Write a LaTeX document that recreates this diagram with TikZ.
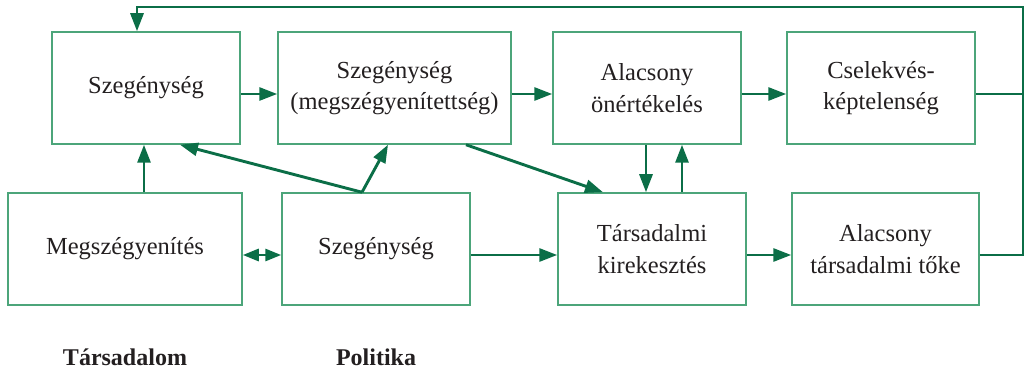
\documentclass[tikz,border=0pt]{standalone}
\usepackage{fontspec}
\setmainfont{Liberation Serif}
\usetikzlibrary{arrows.meta,calc}
\definecolor{boxgreen}{HTML}{4CA57A}
\definecolor{arrgreen}{HTML}{0B6E47}
\definecolor{txt}{HTML}{231F20}
\tikzset{
  box/.style={draw=boxgreen, line width=1.5pt, minimum height=112pt, inner sep=0pt,
    align=center, text=txt, font=\fontsize{24.5}{31.5}\selectfont},
  arr/.style={draw=arrgreen, line width=2.9pt, -{Triangle[length=18pt,width=13pt]}},
  darr/.style={draw=arrgreen, line width=2.9pt, {Triangle[length=16pt,width=12pt]}-{Triangle[length=16pt,width=12pt]}},
  plain/.style={draw=arrgreen, line width=2.9pt},
  lab/.style={text=txt, font=\fontsize{24}{28}\selectfont\bfseries}
}
\begin{document}
\begin{tikzpicture}[x=1pt,y=-1pt]
\useasboundingbox (0,0) rectangle (1027,371);
% top row
\node[box, minimum width=188pt] (A) at (146,88) {Szegénység};
\node[box, minimum width=233pt] (B) at (394.5,88) {Szegénység\\(megszégyenítettség)};
\node[box, minimum width=188pt] (C) at (647,88) {Alacsony\\önértékelés};
\node[box, minimum width=188pt] (D) at (881,88) {Cselekvés-\\képtelenség};
% bottom row
\node[box, minimum width=234pt] (E) at (125,249) {Megszégyenítés};
\node[box, minimum width=188pt] (F) at (376,249) {Szegénység};
\node[box, minimum width=188pt] (G) at (652,249) {Társadalmi\\kirekesztés};
\node[box, minimum width=187pt] (H) at (885.5,249) {Alacsony\\társadalmi tőke};
% labels
\node[lab] (L1) at (125,357) {Társadalom};
\node[lab] (L2) at (376,357) {Politika};
% coordinates
\coordinate (tr) at (1023,7);
\coordinate (tl) at (137,7);
\coordinate (fs) at ([xshift=-14pt]F.north);
% horizontal arrows top row
\draw[arr] ([yshift=-6pt]A.east) -- ([yshift=-6pt]B.west);
\draw[arr] ([yshift=-6pt]B.east) -- ([yshift=-6pt]C.west);
\draw[arr] ([yshift=-6pt]C.east) -- ([yshift=-6pt]D.west);
\draw[plain] ([yshift=-6pt]D.east) -- ([yshift=-6pt]D.east -| tr);
% feedback loop
\draw[arr] ([yshift=-6pt]H.east) -| (tr) -- (tl) -- (tl |- A.north);
% bottom row arrows
\draw[darr] ([yshift=-6pt]E.east) -- ([yshift=-6pt]F.west);
\draw[arr] ([yshift=-6pt]F.east) -- ([yshift=-6pt]G.west);
\draw[arr] ([yshift=-6pt]G.east) -- ([yshift=-6pt]H.west);
% verticals and diagonals
\draw[arr] ([xshift=19pt]E.north) -- ([xshift=19pt]E.north |- A.south);
\draw[arr] (fs) -- ([xshift=34pt]A.south);
\draw[arr] (fs) -- ([xshift=-6.5pt]B.south);
\draw[arr] ([xshift=71.5pt]B.south) -- ([xshift=-49pt]G.north);
\draw[arr] ([xshift=-1pt]C.south) -- ([xshift=-1pt]C.south |- G.north);
\draw[arr] ([xshift=30pt]G.north) -- ([xshift=30pt]G.north |- C.south);
\end{tikzpicture}
\end{document}
